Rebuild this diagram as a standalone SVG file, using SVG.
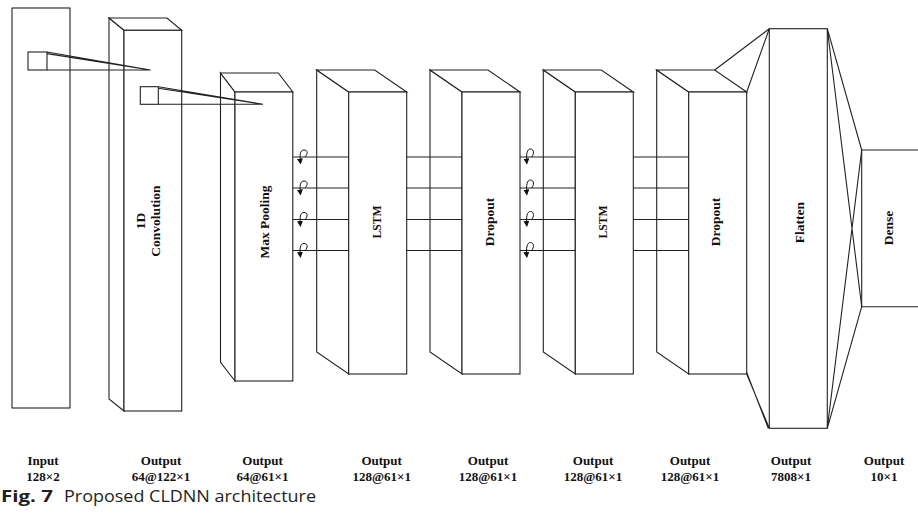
<svg xmlns="http://www.w3.org/2000/svg" width="918" height="517" viewBox="0 0 918 517">
  <style>
    .edge { fill: #ffffff; stroke: #222222; stroke-width: 1.1; stroke-linejoin: miter; }
    .wire { fill: none; stroke: #222222; stroke-width: 1.1; }
    .loop { fill: none; stroke: #111111; stroke-width: 1; }
    .vlbl { font-family: "Liberation Serif", "Times New Roman", serif; font-weight: bold; font-size: 13.5px; fill: #111111; text-anchor: middle; dominant-baseline: central; }
    .dim { font-family: "Liberation Serif", "Times New Roman", serif; font-weight: bold; font-size: 13px; fill: #111111; text-anchor: middle; }
    .cap { font-family: "Open Sans", "Noto Sans", "Liberation Sans", sans-serif; font-size: 16px; fill: #231f20; }
  </style>
  <defs>
    <marker id="head" markerUnits="userSpaceOnUse" markerWidth="6" markerHeight="6" viewBox="0 0 6 6" refX="5" refY="3" orient="auto">
      <path d="M0,0 L6,3 L0,6 Z" fill="#111111"/>
    </marker>
  </defs>

  <rect width="918" height="517" fill="#ffffff"/>

  <!-- input layer -->
  <g id="input">
    <rect class="edge" x="12" y="8" width="58" height="400"/>
  </g>

  <!-- 1D convolution -->
  <g id="conv1d">
    <polygon class="edge" points="109,18 124,30.3 124,411 109,399"/>
    <polygon class="edge" points="109,18 167,18 181.7,30.3 124,30.3"/>
    <rect class="edge" x="124" y="30.3" width="57.7" height="380.7"/>
    <text class="vlbl" transform="translate(140,221) rotate(-90)">1D</text>
    <text class="vlbl" transform="translate(155,221) rotate(-90)">Convolution</text>
  </g>

  <!-- max pooling -->
  <g id="maxpool">
    <polygon class="edge" points="220.5,73 235,92 235,381 220.5,362.3"/>
    <polygon class="edge" points="220.5,73 278.3,73 292.8,92 235,92"/>
    <rect class="edge" x="235" y="92" width="57.8" height="289"/>
    <text class="vlbl" transform="translate(264,222) rotate(-90)">Max Pooling</text>
  </g>

  <!-- LSTM 1 -->
  <g id="lstm1">
    <polygon class="edge" points="316.7,70 348.7,92 348.7,374 316.7,352"/>
    <polygon class="edge" points="316.7,70 374.7,70 406.7,92 348.7,92"/>
    <rect class="edge" x="348.7" y="92" width="58" height="282"/>
    <text class="vlbl" transform="translate(376,222) rotate(-90)" textLength="33" lengthAdjust="spacingAndGlyphs">LSTM</text>
  </g>

  <!-- Dropout 1 -->
  <g id="dropout1">
    <polygon class="edge" points="430,70 462,92 462,374 430,352"/>
    <polygon class="edge" points="430,70 488,70 520,92 462,92"/>
    <rect class="edge" x="462" y="92" width="58" height="282"/>
    <text class="vlbl" transform="translate(489,222) rotate(-90)">Dropout</text>
  </g>

  <!-- LSTM 2 -->
  <g id="lstm2">
    <polygon class="edge" points="543.3,70 575.3,92 575.3,374 543.3,352"/>
    <polygon class="edge" points="543.3,70 601.3,70 633.3,92 575.3,92"/>
    <rect class="edge" x="575.3" y="92" width="58" height="282"/>
    <text class="vlbl" transform="translate(602,222) rotate(-90)" textLength="33" lengthAdjust="spacingAndGlyphs">LSTM</text>
  </g>

  <!-- Dropout 2 -->
  <g id="dropout2">
    <polygon class="edge" points="656.7,70 688.7,92 688.7,374 656.7,352"/>
    <polygon class="edge" points="656.7,70 714.7,70 746.7,92 688.7,92"/>
    <rect class="edge" x="688.7" y="92" width="58" height="282"/>
    <text class="vlbl" transform="translate(715,222) rotate(-90)">Dropout</text>
  </g>

  <!-- Flatten -->
  <g id="flatten">
    <rect class="edge" x="769.3" y="28.7" width="58" height="399.6"/>
    <text class="vlbl" transform="translate(799.5,222.5) rotate(-90)">Flatten</text>
  </g>

  <!-- Dense -->
  <g id="dense">
    <rect x="861.7" y="150" width="57" height="156.7" fill="#ffffff"/>
    <path class="wire" d="M918,150 H861.7 V306.7 H918"/>
    <text class="vlbl" transform="translate(888.5,228) rotate(-90)">Dense</text>
  </g>

  <!-- connectors -->
  <g id="connectors">
    <!-- receptive-field cones -->
    <rect class="wire" x="28" y="52" width="19" height="18"/>
    <path class="wire" d="M47,52 L150.5,70 M47,53.6 L150.5,70 M47,70 H150.5"/>
    <rect class="wire" x="140.3" y="86.7" width="18" height="17.6"/>
    <path class="wire" d="M158.3,86.7 L263,104.3 M158.3,88.3 L263,104.3 M158.3,104.3 H263"/>

    <!-- max pooling to LSTM 1 -->
    <path class="wire" d="M292.8,157 H348.7 M292.8,188 H348.7 M292.8,219.5 H348.7 M292.8,250.5 H348.7"/>
    <!-- LSTM 1 to Dropout 1 -->
    <path class="wire" d="M406.7,157 H462 M406.7,188 H462 M406.7,219.5 H462 M406.7,250.5 H462"/>
    <!-- Dropout 1 to LSTM 2 -->
    <path class="wire" d="M520,157 H575.3 M520,188 H575.3 M520,219.5 H575.3 M520,250.5 H575.3"/>
    <!-- LSTM 2 to Dropout 2 -->
    <path class="wire" d="M633.3,157 H688.7 M633.3,188 H688.7 M633.3,219.5 H688.7 M633.3,250.5 H688.7"/>

    <!-- recurrent loops -->
    <g marker-end="url(#head)">
      <path class="loop" d="M305,157 C308,154 308,150 304,150 C300,150 299.5,155 300.5,163.5"/>
      <path class="loop" d="M305,188 C308,185 308,181 304,181 C300,181 299.5,186 300.5,194.5"/>
      <path class="loop" d="M305,219.5 C308,216.5 308,212.5 304,212.5 C300,212.5 299.5,217.5 300.5,226"/>
      <path class="loop" d="M305,250.5 C308,247.5 308,243.5 304,243.5 C300,243.5 299.5,248.5 300.5,257"/>
      <path class="loop" d="M531.5,157 C534.5,154 534,149 530.5,149 C527,149 526,154 526.8,163.5"/>
      <path class="loop" d="M531.5,188 C534.5,185 534,180 530.5,180 C527,180 526,185 526.8,194.5"/>
      <path class="loop" d="M531.5,219.5 C534.5,216.5 534,211.5 530.5,211.5 C527,211.5 526,216.5 526.8,226"/>
      <path class="loop" d="M531.5,250.5 C534.5,247.5 534,242.5 530.5,242.5 C527,242.5 526,247.5 526.8,257"/>
    </g>

    <!-- Dropout 2 to Flatten -->
    <path class="wire" d="M714.7,70 L769.3,28.7 M746.7,92 L769.3,28.7 M746.7,374 L769.3,428.3 M746.7,372.5 L768.3,428.3"/>
    <!-- Flatten to Dense -->
    <path class="wire" d="M827.3,28.7 L861.7,150 M827.3,28.7 L861.7,306.7 M827.3,428.3 L861.7,306.7 M827.3,428.3 L861.7,150"/>
  </g>

  <!-- layer dimensions -->
  <g id="dimensions">
    <text class="dim" x="43" y="465">Input</text>
    <text class="dim" x="43" y="481">128×2</text>
    <text class="dim" x="161" y="465">Output</text>
    <text class="dim" x="161" y="481">64@122×1</text>
    <text class="dim" x="262.5" y="465">Output</text>
    <text class="dim" x="262.5" y="481">64@61×1</text>
    <text class="dim" x="381.7" y="465">Output</text>
    <text class="dim" x="381.7" y="481">128@61×1</text>
    <text class="dim" x="488" y="465">Output</text>
    <text class="dim" x="488" y="481">128@61×1</text>
    <text class="dim" x="593" y="465">Output</text>
    <text class="dim" x="593" y="481">128@61×1</text>
    <text class="dim" x="690" y="465">Output</text>
    <text class="dim" x="690" y="481">128@61×1</text>
    <text class="dim" x="791" y="465">Output</text>
    <text class="dim" x="791" y="481">7808×1</text>
    <text class="dim" x="884" y="465">Output</text>
    <text class="dim" x="884" y="481">10×1</text>
  </g>

  <!-- caption -->
  <g id="caption">
    <text class="cap" x="1" y="502" font-weight="bold" textLength="52" lengthAdjust="spacingAndGlyphs">Fig. 7</text>
    <text class="cap" x="64" y="502" textLength="252" lengthAdjust="spacingAndGlyphs">Proposed CLDNN architecture</text>
  </g>
</svg>
